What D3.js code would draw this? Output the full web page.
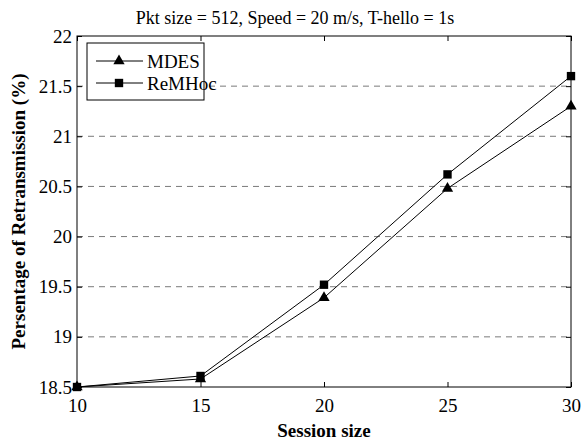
<!DOCTYPE html>
<html>
<head>
<meta charset="utf-8">
<script src="https://cdn.jsdelivr.net/npm/d3@7"></script>
<style>
  body { margin: 0; background: #fff; }
</style>
</head>
<body>
<svg id="chart"></svg>
<script>
var sessionSizes = [10, 15, 20, 25, 30];
var mdes = [18.5, 18.58, 19.39, 20.48, 21.3];
var remhoc = [18.5, 18.61, 19.52, 20.62, 21.6];
var yTicks = [18.5, 19, 19.5, 20, 20.5, 21, 21.5, 22];
var seriesNames = ["MDES", "ReMHoc"];

var FONT = "Liberation Serif";
var width = 581, height = 441;
var margin = {top: 36, right: 10, bottom: 54, left: 77};
var w = width - margin.left - margin.right,
    h = height - margin.top - margin.bottom;

var svg = d3.select("#chart").attr("width", width).attr("height", height);

var x = d3.scaleLinear().domain([10, 30]).range([0, w]);
var y = d3.scaleLinear().domain([18.5, 22]).range([h, 0]);

var g = svg.append("g").attr("transform", "translate(" + margin.left + "," + margin.top + ")");

// dashed grid
g.selectAll("line.grid")
  .data(yTicks.filter(function(d) { return d > 18.5 && d < 22; }))
  .enter().append("line")
  .attr("class", "grid")
  .attr("x1", 0).attr("x2", w)
  .attr("y1", function(d) { return y(d); })
  .attr("y2", function(d) { return y(d); })
  .style("stroke", "#7a7a7a")
  .style("stroke-dasharray", "6,5")
  .style("stroke-width", 1);

// axes with inward ticks
var xAxis = g.append("g").attr("transform", "translate(0," + h + ")")
  .call(d3.axisBottom(x).tickValues(sessionSizes).tickSize(-5).tickPadding(12).tickFormat(d3.format("d")));
var xTop = g.append("g")
  .call(d3.axisTop(x).tickValues(sessionSizes).tickSize(-5).tickFormat(""));
var yAxis = g.append("g")
  .call(d3.axisLeft(y).tickValues(yTicks).tickSize(-5).tickPadding(5).tickFormat(function(d) { return d; }));
var yRight = g.append("g").attr("transform", "translate(" + w + ",0)")
  .call(d3.axisRight(y).tickValues(yTicks).tickSize(-5).tickFormat(""));

[xAxis, xTop, yAxis, yRight].forEach(function(a) {
  a.attr("font-family", FONT).attr("font-size", 19);
  a.select(".domain").remove();
  a.selectAll(".tick line").attr("stroke", "#000");
  a.selectAll("text").attr("fill", "#000");
});
xAxis.selectAll("text").attr("dy", "0.71em");

// box
g.append("rect").attr("width", w).attr("height", h)
  .style("fill", "none").style("stroke", "#000").style("stroke-width", 1);

var line = d3.line()
  .x(function(d, i) { return x(sessionSizes[i]); })
  .y(function(d) { return y(d); });

var tri = d3.symbol().type(d3.symbolTriangle).size(55);
var sq = d3.symbol().type(d3.symbolSquare).size(70);

[remhoc, mdes].forEach(function(s) {
  g.append("path").datum(s).attr("d", line)
    .style("fill", "none").style("stroke", "#000").style("stroke-width", 1);
});

g.selectAll("path.mdes").data(mdes).enter().append("path")
  .attr("class", "mdes")
  .attr("transform", function(d, i) { return "translate(" + x(sessionSizes[i]) + "," + y(d) + ")"; })
  .attr("d", tri).style("fill", "#000");

g.selectAll("path.remhoc").data(remhoc).enter().append("path")
  .attr("class", "remhoc")
  .attr("transform", function(d, i) { return "translate(" + x(sessionSizes[i]) + "," + y(d) + ")"; })
  .attr("d", sq).style("fill", "#000");

// title & labels
svg.append("text")
  .attr("x", 295).attr("y", 24)
  .attr("text-anchor", "middle")
  .attr("font-family", FONT).attr("font-size", 18)
  .text("Pkt size = 512, Speed = 20 m/s, T-hello = 1s");

svg.append("text")
  .attr("x", margin.left + w / 2).attr("y", 437)
  .attr("text-anchor", "middle")
  .attr("font-family", FONT).attr("font-size", 19).attr("font-weight", "bold")
  .text("Session size");

svg.append("text")
  .attr("transform", "translate(25," + (margin.top + h / 2) + ") rotate(-90)")
  .attr("text-anchor", "middle")
  .attr("font-family", FONT).attr("font-size", 19).attr("font-weight", "bold")
  .text("Persentage of Retransmission (%)");

// legend
var legend = g.append("g").attr("transform", "translate(10,7)");
legend.append("rect").attr("width", 117).attr("height", 57)
  .style("fill", "#fff").style("stroke", "#000").style("stroke-width", 1);
var rows = legend.selectAll("g.row").data(seriesNames).enter().append("g")
  .attr("class", "row")
  .attr("transform", function(d, i) { return "translate(0," + (18 + i * 22) + ")"; });
rows.append("line").attr("x1", 9).attr("x2", 56).attr("y1", 0).attr("y2", 0)
  .style("stroke", "#000");
rows.append("path")
  .attr("transform", "translate(32,0)")
  .attr("d", function(d, i) { return i === 0 ? tri() : sq(); })
  .style("fill", "#000");
rows.append("text").attr("x", 60).attr("dy", "0.35em")
  .attr("font-family", FONT).attr("font-size", 19)
  .text(function(d) { return d; });
</script>
</body>
</html>
